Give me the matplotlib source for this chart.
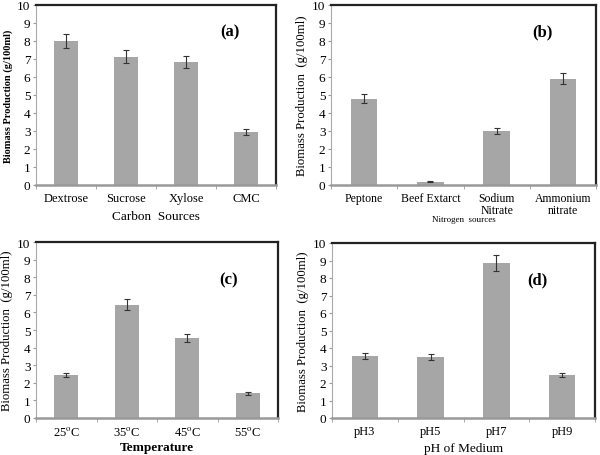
import matplotlib.pyplot as plt

plt.rcParams['font.family'] = ['Liberation Serif', 'DejaVu Serif']
plt.rcParams['mathtext.fontset'] = 'stix'

carbon = ['Dextrose', 'Sucrose', 'Xylose', 'CMC']
carbon_val = [8.0, 7.12, 6.85, 2.93]
carbon_err = [0.4, 0.36, 0.33, 0.16]

nitrogen = ['Peptone', 'Beef Extarct', 'Sodium\nNitrate', 'Ammonium\nnitrate']
nitrogen_val = [4.78, 0.17, 3.0, 5.9]
nitrogen_err = [0.25, 0.03, 0.16, 0.3]

temps = ['25$^{\\mathrm{o}}$C', '35$^{\\mathrm{o}}$C', '45$^{\\mathrm{o}}$C', '55$^{\\mathrm{o}}$C']
temp_val = [2.45, 6.43, 4.55, 1.4]
temp_err = [0.12, 0.32, 0.25, 0.08]

ph = ['pH3', 'pH5', 'pH7', 'pH9']
ph_val = [3.56, 3.48, 8.87, 2.46]
ph_err = [0.17, 0.18, 0.45, 0.12]

W, H = 600, 456
fig = plt.figure(figsize=(6, 4.56), dpi=100)


def panel(rect, cats, vals, errs, tag, tag_xy, xlabel, xl_size, xl_weight,
          ylabel, yl_size, yl_weight, xl_y, tick_size=9):
    x0, y0, x1, y1 = rect  # pixel coords, top-left origin
    ax = fig.add_axes([x0 / W, 1 - y1 / H, (x1 - x0) / W, (y1 - y0) / H])
    xs = range(len(cats))
    ax.bar(xs, vals, width=0.4, color='#a6a6a6', yerr=errs,
           error_kw=dict(ecolor='#333333', elinewidth=0.8, capsize=2.5, capthick=0.8))
    ax.set_xlim(-0.5, len(cats) - 0.5)
    ax.set_ylim(0, 10)
    ax.set_yticks(range(11))
    ax.set_xticks(list(xs))
    ax.set_xticklabels(cats, fontsize=tick_size, linespacing=1.0)
    ax.set_xticks([i + 0.5 for i in range(-1, len(cats))], minor=True)
    ax.tick_params(axis='x', which='major', length=0, pad=5)
    ax.tick_params(axis='x', which='minor', length=3, color='#999999', direction='out')
    ax.tick_params(axis='y', labelsize=9.5, length=2, color='#999999', pad=2)
    for s in ['top', 'right']:
        ax.spines[s].set_color('#222222')
        ax.spines[s].set_linewidth(1.6)
    ax.spines['left'].set_color('#aaaaaa')
    ax.spines['left'].set_linewidth(0.8)
    ax.spines['bottom'].set_color('#999999')
    ax.spines['bottom'].set_linewidth(1.8)
    ax.text(tag_xy[0], tag_xy[1], tag, fontsize=12, fontweight='bold', ha='center', va='center')
    ax.set_ylabel(ylabel, fontsize=yl_size, fontweight=yl_weight, labelpad=3)
    fig.text((x0 + x1) / 2 / W, 1 - xl_y / H, xlabel, fontsize=xl_size,
             fontweight=xl_weight, ha='center', va='center')
    return ax


panel((36, 6, 276, 186), carbon, carbon_val, carbon_err, '(a)', (2.73, 8.55),
      'Carbon  Sources', 9.5, 'normal', 'Biomass Production (g/100ml)', 7.5, 'bold', 217)
panel((331, 6, 596, 186), nitrogen, nitrogen_val, nitrogen_err, '(b)', (2.69, 8.55),
      'Nitrogen  sources', 6.5, 'normal', 'Biomass Production  (g/100ml)', 9.2, 'normal', 220,
      tick_size=8.5)
panel((36, 243, 278, 419), temps, temp_val, temp_err, '(c)', (2.68, 7.85),
      'Temperature', 9.5, 'bold', 'Biomass Production  (g/100ml)', 9.2, 'normal', 448)
panel((332, 244, 595, 419), ph, ph_val, ph_err, '(d)', (2.63, 7.9),
      'pH of Medium', 9.5, 'normal', 'Biomass Production  (g/100ml)', 9.2, 'normal', 449)

fig.savefig('out.png', dpi=100)
